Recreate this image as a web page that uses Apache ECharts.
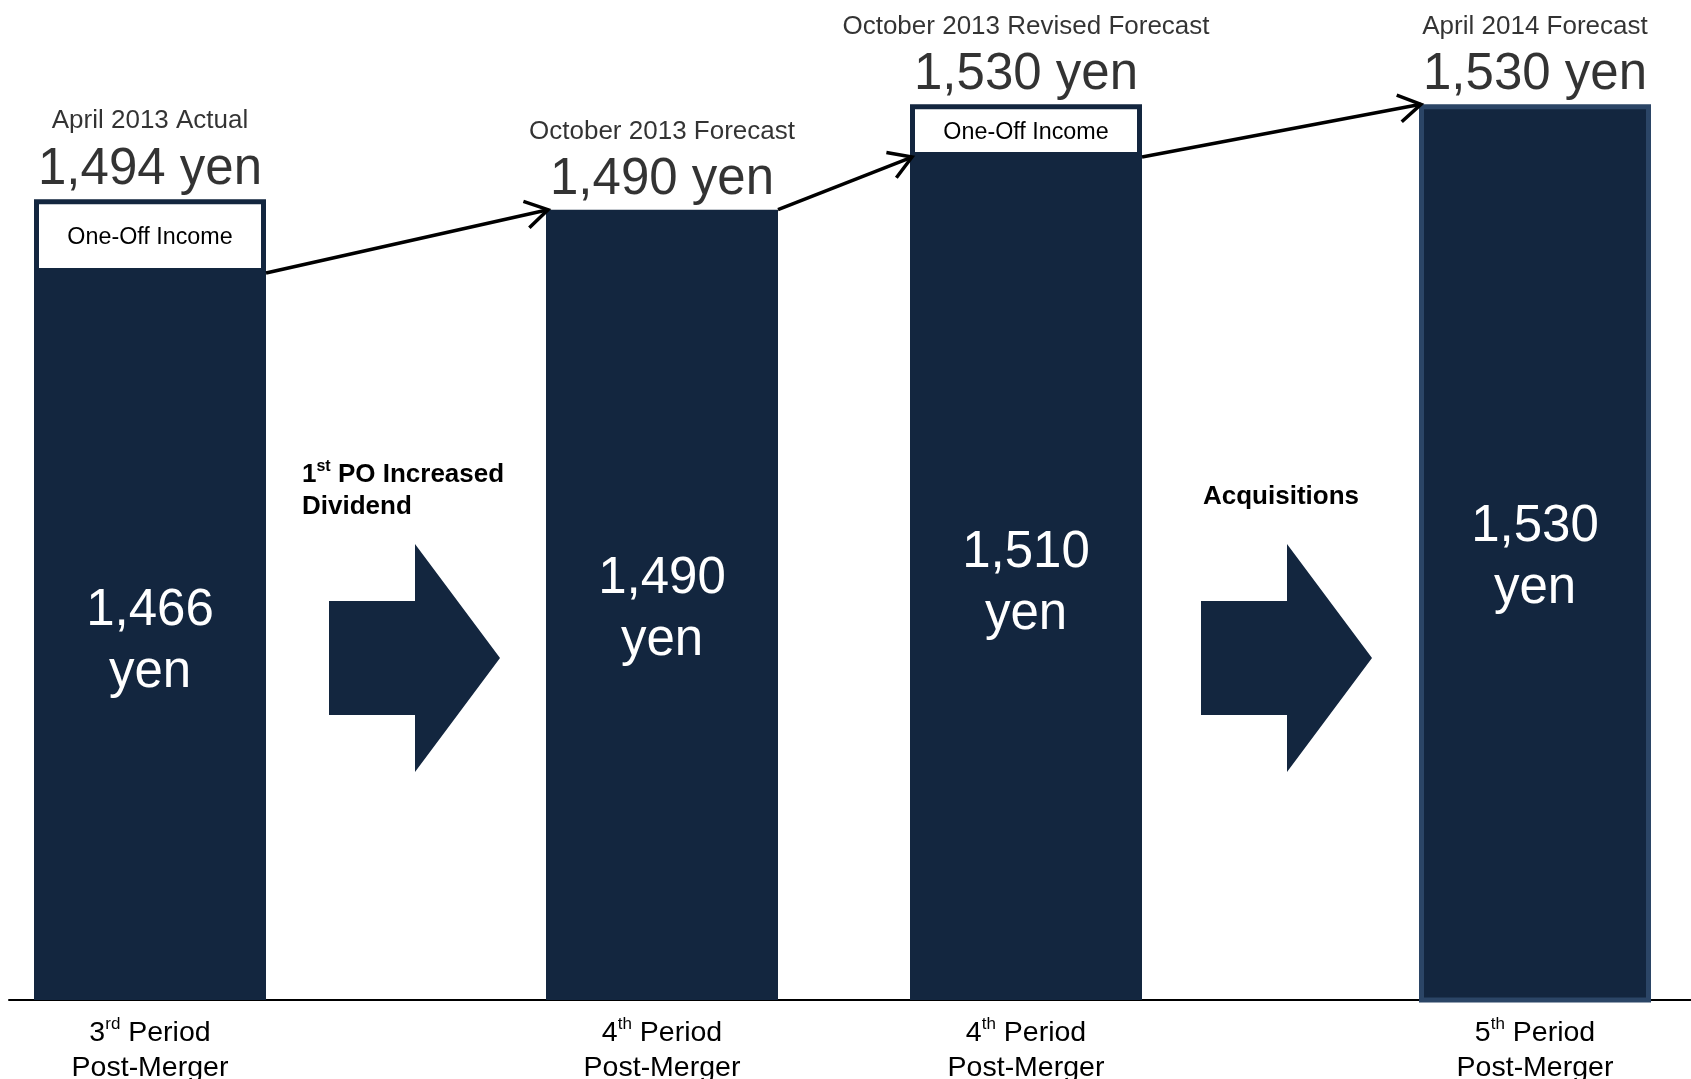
<!DOCTYPE html>
<html>
<head>
<meta charset="utf-8">
<title>Distribution per unit</title>
<script src="https://cdn.jsdelivr.net/npm/echarts@6.0.0/dist/echarts.min.js"></script>
<style>
  html, body { margin: 0; padding: 0; background: #fff; }
  #main { width: 1691px; height: 1079px; }
</style>
</head>
<body>
<div id="main"></div>
<script>
(function() {
  'use strict';
  var echarts = window.echarts;

  // data (yen per unit)
  var periods = ['3rd Period\nPost-Merger', '4th Period\nPost-Merger', '4th Period\nPost-Merger', '5th Period\nPost-Merger'];
  var headlines = ['April 2013 Actual', 'October 2013 Forecast', 'October 2013 Revised Forecast', 'April 2014 Forecast'];
  var baseDividend = [1466, 1490, 1510, 1530];
  var oneOffIncome = [28, 0, 20, 0];
  var stepNotes = ['1st PO Increased\nDividend', 'Acquisitions'];

  // layout
  var NAVY = '#13263f';
  var FONT = '"Liberation Sans", Arial, sans-serif';
  var barLeft = [34, 546, 910, 1419];
  var barW = 232;
  var yMin = 1190, yMax = 1540;
  var gridTop = 78, gridBottom = 79;
  var arrowX = [329, 1201];
  var noteAnchor = [[302, 491], [1203, 497]];

  function fmt(v) {
    return String(v).replace(/\B(?=(\d{3})+(?!\d))/g, ',');
  }

  // "3rd" -> rich text with superscript suffix
  function ordinal(str, base, sup) {
    return str.split('\n').map(function(line) {
      var m = line.match(/^(\d+)(st|nd|rd|th)(.*)$/);
      if (m) {
        return '{' + base + '|' + m[1] + '}{' + sup + '|' + m[2] + '}{' + base + '|' + m[3] + '}';
      }
      return '{' + base + '|' + line + '}';
    }).join('\n');
  }

  var grids = [], xAxes = [], yAxes = [], series = [];

  for (var i = 0; i < baseDividend.length; i++) {
    grids.push({ left: barLeft[i], width: barW, top: gridTop, bottom: gridBottom, outerBoundsMode: 'none' });
    xAxes.push({
      type: 'category',
      gridIndex: i,
      data: [periods[i]],
      axisLine: { show: false },
      axisTick: { show: false },
      axisLabel: {
        margin: 16,
        color: '#000',
        formatter: function(v) { return ordinal(v, 'n', 's'); },
        rich: {
          n: { fontFamily: FONT, fontSize: 28.5, lineHeight: 35, color: '#000' },
          s: { fontFamily: FONT, fontSize: 17, lineHeight: 22, color: '#000', verticalAlign: 'top' }
        }
      }
    });
    yAxes.push({ type: 'value', gridIndex: i, min: yMin, max: yMax, show: false });

    series.push({
      type: 'bar',
      xAxisIndex: i,
      yAxisIndex: i,
      stack: 'div' + i,
      barWidth: '100%',
      data: [baseDividend[i]],
      itemStyle: {
        color: NAVY,
        borderColor: i === 3 ? '#2b4566' : NAVY,
        borderWidth: i === 3 ? 5 : 0
      },
      label: {
        show: true,
        position: 'inside',
        offset: [0, 5],
        color: '#fff',
        fontFamily: FONT,
        fontSize: 51,
        lineHeight: 62,
        formatter: function(p) { return fmt(p.value) + '\nyen'; }
      }
    });

    if (oneOffIncome[i] > 0) {
      series.push({
        type: 'bar',
        xAxisIndex: i,
        yAxisIndex: i,
        stack: 'div' + i,
        barWidth: '100%',
        data: [oneOffIncome[i]],
        itemStyle: { color: '#fff', borderColor: NAVY, borderWidth: 5 },
        label: {
          show: true,
          position: 'inside',
          offset: [0, 2],
          color: '#000',
          fontFamily: FONT,
          fontSize: 23.3,
          formatter: 'One-Off Income'
        }
      });
    }

    // headline above each bar
    series.push({
      type: 'scatter',
      xAxisIndex: i,
      yAxisIndex: i,
      symbolSize: 1,
      itemStyle: { color: 'rgba(0,0,0,0)' },
      data: [baseDividend[i] + oneOffIncome[i]],
      label: {
        show: true,
        position: 'top',
        distance: 1,
        color: '#000',
        formatter: '{a|' + headlines[i] + '}\n{b|' + fmt(baseDividend[i] + oneOffIncome[i]) + ' yen}',
        rich: {
          a: { fontFamily: FONT, fontSize: 26, lineHeight: 41, color: '#000' },
          b: { fontFamily: FONT, fontSize: 51, lineHeight: 56, color: '#000' }
        }
      }
    });
  }

  // baseline across the whole slide
  grids.push({ left: 9, right: 0, top: gridTop, bottom: gridBottom, outerBoundsMode: 'none' });
  xAxes.push({
    type: 'category',
    gridIndex: 4,
    data: [''],
    axisLine: { lineStyle: { color: '#000', width: 2 } },
    axisTick: { show: false },
    axisLabel: { show: false }
  });
  yAxes.push({ type: 'value', gridIndex: 4, min: yMin, max: yMax, show: false });

  var option = {
    backgroundColor: '#fff',
    animation: false,
    textStyle: { fontFamily: FONT, color: '#000' },
    grid: grids,
    xAxis: xAxes,
    yAxis: yAxes,
    series: series
  };

  var chart = echarts.init(document.getElementById('main'));
  chart.setOption(option);

  var graphics = [];

  // block arrows + notes between periods
  arrowX.forEach(function(x0, k) {
    graphics.push({
      type: 'polygon',
      z: 10,
      shape: {
        points: [[x0, 601], [x0 + 86, 601], [x0 + 86, 544], [x0 + 171, 658],
                 [x0 + 86, 772], [x0 + 86, 715], [x0, 715]]
      },
      style: { fill: NAVY }
    });
    graphics.push({
      type: 'text',
      z: 10,
      style: {
        x: noteAnchor[k][0],
        y: noteAnchor[k][1],
        align: 'left',
        verticalAlign: 'middle',
        text: ordinal(stepNotes[k], 'b', 's'),
        rich: {
          b: { fontFamily: FONT, fontSize: 26, fontWeight: 'bold', lineHeight: 32, fill: '#000', color: '#000' },
          s: { fontFamily: FONT, fontSize: 16, fontWeight: 'bold', lineHeight: 20, fill: '#000', color: '#000', verticalAlign: 'top' }
        }
      }
    });
  });

  // connector arrows between the recurring dividend tops
  for (var k = 0; k < baseDividend.length - 1; k++) {
    var p0 = chart.convertToPixel({ gridIndex: k }, [0, baseDividend[k]]);
    var p1 = chart.convertToPixel({ gridIndex: k + 1 }, [0, baseDividend[k + 1]]);
    var x1 = p0[0] + barW / 2, y1 = p0[1];
    var x2 = p1[0] - barW / 2 + 2, y2 = p1[1];
    var ang = Math.atan2(y2 - y1, x2 - x1);
    var len = 26, spread = 0.55;
    graphics.push({
      type: 'line',
      z: 10,
      shape: { x1: x1, y1: y1, x2: x2, y2: y2 },
      style: { stroke: '#000', lineWidth: 3.5 }
    });
    graphics.push({
      type: 'polyline',
      z: 10,
      shape: {
        points: [
          [x2 - len * Math.cos(ang - spread), y2 - len * Math.sin(ang - spread)],
          [x2, y2],
          [x2 - len * Math.cos(ang + spread), y2 - len * Math.sin(ang + spread)]
        ]
      },
      style: { stroke: '#000', lineWidth: 3.5, fill: null }
    });
  }

  chart.setOption({ graphic: graphics });
}());
</script>
</body>
</html>
